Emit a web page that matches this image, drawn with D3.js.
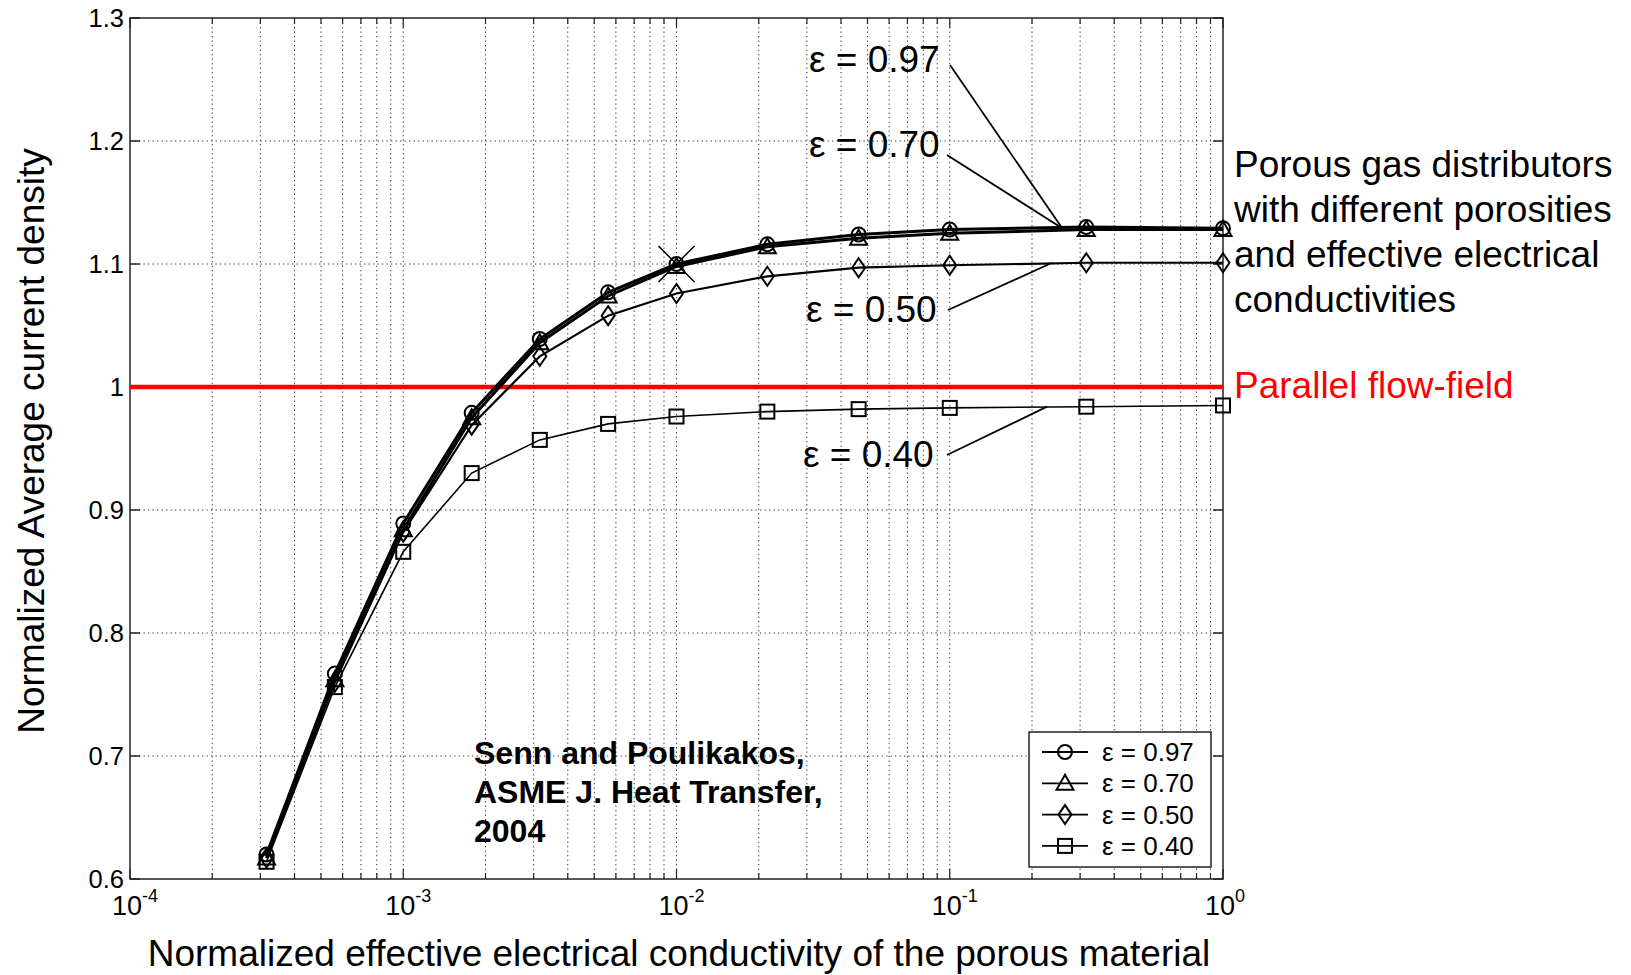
<!DOCTYPE html>
<html>
<head>
<meta charset="utf-8">
<script src="https://cdn.jsdelivr.net/npm/d3@7"></script>
<style>
  html, body { margin: 0; padding: 0; background: #fff; }
  svg { display: block; font-family: "Liberation Sans", Arial, sans-serif; }
</style>
</head>
<body>
<svg id="chart"></svg>
<script>
// normalized effective electrical conductivity (x) and current density (y)
const conductivity = [3.16e-4, 5.62e-4, 1e-3, 1.78e-3, 3.16e-3, 5.62e-3, 1e-2, 2.15e-2, 4.64e-2, 1e-1, 3.16e-1, 1]
const eps097 = [0.620, 0.767, 0.889, 0.979, 1.039, 1.077, 1.100, 1.116, 1.124, 1.128, 1.130, 1.129]
const eps070 = [0.617, 0.762, 0.884, 0.975, 1.036, 1.074, 1.098, 1.114, 1.121, 1.125, 1.128, 1.128]
const eps050 = [0.617, 0.760, 0.882, 0.969, 1.025, 1.058, 1.076, 1.090, 1.097, 1.099, 1.101, 1.101]
const eps040 = [0.614, 0.756, 0.866, 0.930, 0.957, 0.970, 0.976, 0.980, 0.982, 0.983, 0.984, 0.985]
const seriesNames = ['ε = 0.97', 'ε = 0.70', 'ε = 0.50', 'ε = 0.40']
const markerTypes = ['circle', 'triangle', 'diamond', 'square']
const yTicks = [0.6, 0.7, 0.8, 0.9, 1, 1.1, 1.2, 1.3]
const xTickExp = [-4, -3, -2, -1, 0]
const parallelFlowField = 1.0

var width = 1631
var height = 975
var pLeft = 130, pRight = 1223, pTop = 18, pBottom = 879

var svg = d3.select('#chart').attr('width', width).attr('height', height)

var x = d3.scaleLog().domain([1e-4, 1]).range([pLeft, pRight])
var y = d3.scaleLinear().domain([0.6, 1.3]).range([pBottom, pTop])

/* grid */
var minorX = []
for (var e = -4; e < 0; e++) {
  for (var m = 1; m < 10; m++) minorX.push(m * Math.pow(10, e))
}
minorX.push(1)

var grid = svg.append('g').attr('class', 'grid')
grid.selectAll('line.vx')
  .data(minorX.filter(function (v) { return v > 1.001e-4 && v < 0.999 }))
  .enter().append('line')
    .attr('x1', function (v) { return x(v) }).attr('x2', function (v) { return x(v) })
    .attr('y1', pTop).attr('y2', pBottom)
    .attr('stroke', '#333').attr('stroke-width', 1).attr('stroke-dasharray', '1.3,3.2')
grid.selectAll('line.hy')
  .data(yTicks.slice(1, -1))
  .enter().append('line')
    .attr('x1', pLeft).attr('x2', pRight)
    .attr('y1', function (v) { return y(v) }).attr('y2', function (v) { return y(v) })
    .attr('stroke', '#333').attr('stroke-width', 1).attr('stroke-dasharray', '1.3,3.2')

/* axis box and ticks */
var ax = svg.append('g').attr('class', 'axes').attr('stroke', '#222').attr('stroke-width', 1.5)
ax.append('rect').attr('x', pLeft).attr('y', pTop).attr('width', pRight - pLeft).attr('height', pBottom - pTop)
  .attr('fill', 'none')
minorX.forEach(function (v) {
  var major = Math.abs(Math.log10(v) - Math.round(Math.log10(v))) < 1e-9
  var len = major ? 10 : 6
  ax.append('line').attr('x1', x(v)).attr('x2', x(v)).attr('y1', pBottom).attr('y2', pBottom - len).attr('stroke-width', 1.2)
  ax.append('line').attr('x1', x(v)).attr('x2', x(v)).attr('y1', pTop).attr('y2', pTop + len).attr('stroke-width', 1.2)
})
yTicks.forEach(function (v) {
  ax.append('line').attr('x1', pLeft).attr('x2', pLeft + 10).attr('y1', y(v)).attr('y2', y(v))
  ax.append('line').attr('x1', pRight).attr('x2', pRight - 10).attr('y1', y(v)).attr('y2', y(v))
})

/* tick labels */
svg.append('g').selectAll('text')
  .data(yTicks)
  .enter().append('text')
    .attr('x', pLeft - 6).attr('y', function (v) { return y(v) + 9 })
    .attr('text-anchor', 'end').attr('font-size', 25.5)
    .text(function (v) { return String(v) })

var xl = svg.append('g').selectAll('text')
  .data(xTickExp)
  .enter().append('text')
    .attr('x', function (e) { return x(Math.pow(10, e)) - 18 })
    .attr('y', 915).attr('font-size', 27)
xl.append('tspan').text('10')
xl.append('tspan').attr('dy', -13).attr('font-size', 18).text(function (e) { return String(e) })

/* axis titles */
svg.append('text').attr('x', 679).attr('y', 966).attr('text-anchor', 'middle')
  .attr('font-size', 37).text('Normalized effective electrical conductivity of the porous material')
svg.append('text').attr('transform', 'translate(44,441) rotate(-90)').attr('text-anchor', 'middle')
  .attr('font-size', 37).text('Normalized Average current density')

/* reference line */
svg.append('line').attr('x1', pLeft).attr('x2', pRight)
  .attr('y1', y(parallelFlowField)).attr('y2', y(parallelFlowField))
  .attr('stroke', '#ff0000').attr('stroke-width', 4.5)

/* series */
var seriesValues = [eps097, eps070, eps050, eps040]
var widths = [3, 3, 2.2, 1.6]
var line = d3.line().x(function (d) { return x(d[0]) }).y(function (d) { return y(d[1]) })

function drawMarker(g, type, cx, cy) {
  var s
  if (type === 'circle') {
    s = g.append('circle').attr('cx', cx).attr('cy', cy).attr('r', 7)
  } else if (type === 'triangle') {
    s = g.append('path').attr('d', 'M' + cx + ',' + (cy - 8.5) + 'L' + (cx + 8.5) + ',' + (cy + 6.5) + 'L' + (cx - 8.5) + ',' + (cy + 6.5) + 'Z')
  } else if (type === 'diamond') {
    s = g.append('path').attr('d', 'M' + cx + ',' + (cy - 9.5) + 'L' + (cx + 6.5) + ',' + cy + 'L' + cx + ',' + (cy + 9.5) + 'L' + (cx - 6.5) + ',' + cy + 'Z')
  } else {
    s = g.append('rect').attr('x', cx - 7).attr('y', cy - 7).attr('width', 14).attr('height', 14)
  }
  s.attr('fill', 'none').attr('stroke', '#000').attr('stroke-width', 2)
}

var sg = svg.append('g').attr('class', 'series')
for (var i = seriesValues.length - 1; i >= 0; i--) {
  var pts = conductivity.map(function (c, j) { return [c, seriesValues[i][j]] })
  sg.append('path').datum(pts).attr('d', line)
    .attr('fill', 'none').attr('stroke', '#000').attr('stroke-width', widths[i])
  pts.forEach(function (p) { drawMarker(sg, markerTypes[i], x(p[0]), y(p[1])) })
}

/* the cross at 1e-2 */
var cx0 = x(1e-2), cy0 = y(eps097[6])
sg.append('path')
  .attr('d', 'M' + (cx0 - 18) + ',' + (cy0 - 18) + 'L' + (cx0 + 18) + ',' + (cy0 + 18) +
             'M' + (cx0 + 18) + ',' + (cy0 - 18) + 'L' + (cx0 - 18) + ',' + (cy0 + 18))
  .attr('stroke', '#000').attr('stroke-width', 1.5)

/* annotations with leader lines */
var notes = [
  { text: 'ε = 0.97', tx: 809, ty: 72, lx: 950, ly: 65, px: 0.258, py: 1.129 },
  { text: 'ε = 0.70', tx: 809, ty: 157, lx: 947, ly: 155, px: 0.258, py: 1.129 },
  { text: 'ε = 0.50', tx: 806, ty: 322, lx: 948, ly: 310, px: 0.237, py: 1.101 },
  { text: 'ε = 0.40', tx: 803, ty: 467, lx: 947, ly: 455, px: 0.227, py: 0.984 }
]
var ng = svg.append('g').attr('class', 'notes')
notes.forEach(function (n) {
  ng.append('text').attr('x', n.tx).attr('y', n.ty).attr('font-size', 37).text(n.text)
  ng.append('line').attr('x1', n.lx).attr('y1', n.ly).attr('x2', x(n.px)).attr('y2', y(n.py))
    .attr('stroke', '#000').attr('stroke-width', 1.8)
})

var sideText = ['Porous gas distributors', 'with different porosities', 'and effective electrical', 'conductivities']
svg.append('g').selectAll('text').data(sideText).enter().append('text')
  .attr('x', 1234).attr('y', function (d, k) { return 177 + k * 45 })
  .attr('font-size', 37).text(function (d) { return d })
svg.append('text').attr('x', 1234).attr('y', 398).attr('font-size', 37).attr('fill', '#ff0000')
  .text('Parallel flow-field')

var cite = ['Senn and Poulikakos,', 'ASME J. Heat Transfer,', '2004']
svg.append('g').selectAll('text').data(cite).enter().append('text')
  .attr('x', 474).attr('y', function (d, k) { return 764 + k * 39 })
  .attr('font-size', 32).attr('font-weight', 'bold').text(function (d) { return d })

/* legend */
var lg = svg.append('g').attr('class', 'legend')
lg.append('rect').attr('x', 1029).attr('y', 732).attr('width', 182).attr('height', 135)
  .attr('fill', '#fff').attr('stroke', '#222').attr('stroke-width', 1.5)
seriesNames.forEach(function (name, k) {
  var ly = 752 + k * 31.3
  lg.append('line').attr('x1', 1042).attr('x2', 1088).attr('y1', ly).attr('y2', ly)
    .attr('stroke', '#000').attr('stroke-width', 1.8)
  drawMarker(lg, markerTypes[k], 1065, ly)
  lg.append('text').attr('x', 1102).attr('y', ly + 9).attr('font-size', 26).text(name)
})
</script>
</body>
</html>
